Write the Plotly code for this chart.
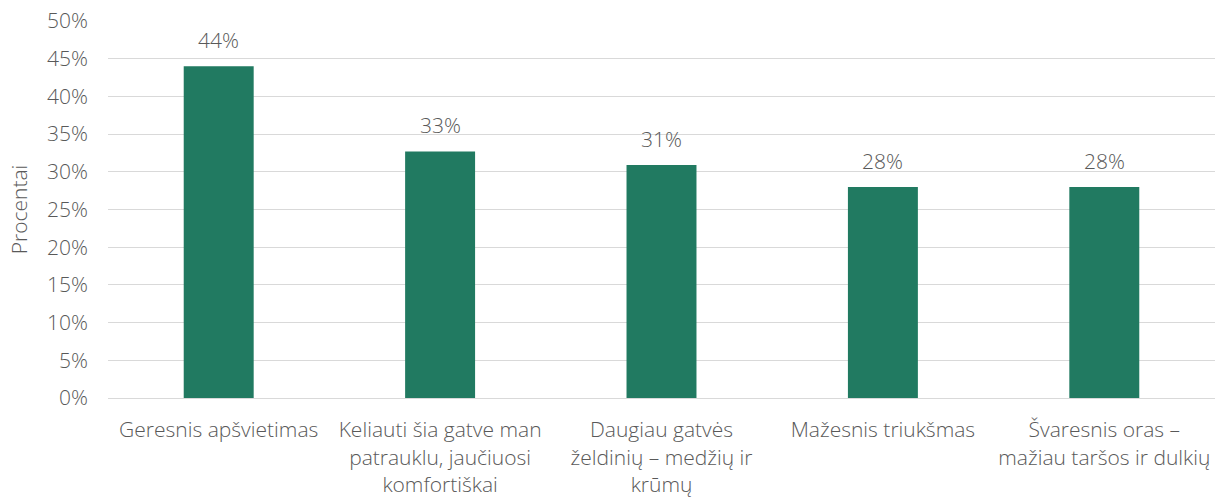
import plotly.graph_objects as go

categories = [
    "Geresnis apšvietimas",
    "Keliauti šia gatve man<br>patrauklu, jaučiuosi<br>komfortiškai",
    "Daugiau gatvės<br>želdinių – medžių ir<br>krūmų",
    "Mažesnis triukšmas",
    "Švaresnis oras –<br>mažiau taršos ir dulkių",
]
values = [0.44, 0.327, 0.309, 0.28, 0.28]
tick_vals = [0, 0.05, 0.10, 0.15, 0.20, 0.25, 0.30, 0.35, 0.40, 0.45, 0.50]

FONT = "Open Sans"
GRAY = "#595959"
SIZE = 21

fig = go.Figure(
    go.Bar(
        x=categories,
        y=values,
        marker=dict(color="#217A61", line=dict(width=0)),
        width=0.316,
        hoverinfo="skip",
    )
)

for c, v in zip(categories, values):
    fig.add_annotation(
        x=c, y=v, text=f"{v:.0%}", showarrow=False,
        yanchor="bottom", yshift=10,
        font=dict(family=FONT, size=SIZE, color=GRAY, weight=300),
    )

fig.update_layout(
    width=1215,
    height=497,
    margin=dict(l=108, r=0, t=21, b=99),
    paper_bgcolor="white",
    plot_bgcolor="white",
    showlegend=False,
    font=dict(family=FONT, size=SIZE, color=GRAY, weight=300),
    xaxis=dict(
        automargin=False,
        showgrid=False,
        showline=True,
        linecolor="#d9d9d9",
        linewidth=1,
        ticks="",
        ticklabelstandoff=13,
        tickfont=dict(family=FONT, size=SIZE, color=GRAY, weight=300),
    ),
    yaxis=dict(
        automargin=False,
        range=[0, 0.5],
        tickvals=tick_vals,
        tickformat=".0%",
        showgrid=True,
        gridcolor="#d9d9d9",
        gridwidth=1,
        zeroline=False,
        showline=False,
        ticks="",
        ticklabelstandoff=19,
        tickfont=dict(family=FONT, size=SIZE, color=GRAY, weight=300),
        title=dict(text="Procentai", font=dict(family=FONT, size=SIZE, color=GRAY, weight=300), standoff=13),
    ),
)

fig.write_html(
    "out.html",
    config={"displayModeBar": False},
    post_script="document.body.style.margin='0';document.body.style.overflow='hidden';",
)
